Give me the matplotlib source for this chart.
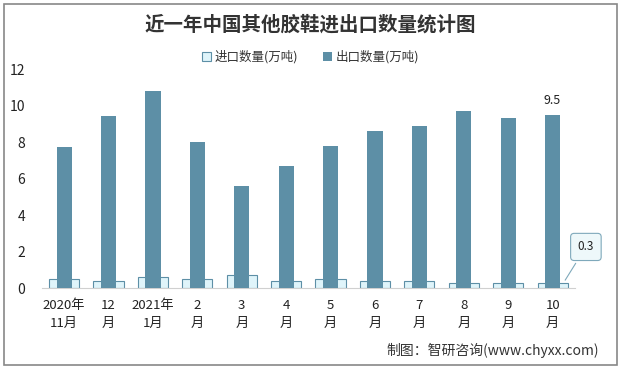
import matplotlib
matplotlib.use("Agg")
import matplotlib.pyplot as plt
from matplotlib.patches import Rectangle

plt.rcParams['font.family'] = ['Noto Sans CJK SC', 'DejaVu Sans']

categories = ["2020年\n11月", "12\n月", "2021年\n1月", "2\n月", "3\n月", "4\n月", "5\n月",
              "6\n月", "7\n月", "8\n月", "9\n月", "10\n月"]
imports = [0.5, 0.4, 0.6, 0.5, 0.7, 0.4, 0.5, 0.4, 0.4, 0.3, 0.3, 0.3]
exports = [7.7, 9.4, 10.8, 8.0, 5.6, 6.7, 7.8, 8.6, 8.9, 9.7, 9.3, 9.5]
yticks = [0, 2, 4, 6, 8, 10, 12]

exp_color = "#5D8FA6"
imp_fill = "#DFF4FA"
imp_edge = "#5D8FA6"

fig = plt.figure(figsize=(6.21, 3.69), dpi=100)
ax = fig.add_axes([0.0676, 0.2195, 0.858, 0.5935])

x = list(range(len(categories)))
ax.bar(x, imports, width=0.68, color=imp_fill, edgecolor=imp_edge, linewidth=0.8,
       label="进口数量(万吨)", zorder=2)
ax.bar(x, exports, width=0.34, color=exp_color, label="出口数量(万吨)", zorder=3)

ax.set_xlim(-0.5, len(categories) - 0.5)
ax.set_ylim(0, 12)
ax.set_yticks(yticks)
ax.set_yticklabels([str(v) for v in yticks], fontsize=10, color="#222222")
ax.set_xticks(x)
ax.set_xticklabels(categories, fontsize=9.5, color="#222222", linespacing=1.5)
ax.tick_params(axis='both', length=0, pad=8)
ax.tick_params(axis='y', pad=12)
for s in ["top", "right", "left"]:
    ax.spines[s].set_visible(False)
ax.spines["bottom"].set_color("#D0D0D0")

# labels on last bar
ax.text(x[-1], exports[-1] + 0.4, f"{exports[-1]}", ha="center", va="bottom", fontsize=9, color="#222222")
ax.annotate(f"{imports[-1]}", xy=(x[-1] + 0.25, imports[-1]), xytext=(x[-1] + 0.75, 2.25),
            ha="center", va="center", fontsize=8.5, color="#222222",
            bbox=dict(boxstyle="round,pad=0.6,rounding_size=0.3", fc="#EEF8FA", ec="#7FA9BB", lw=0.8),
            arrowprops=dict(arrowstyle="-", color="#7FA9BB", lw=0.8),
            annotation_clip=False)

fig.text(0.5, 0.932, "近一年中国其他胶鞋进出口数量统计图", ha="center", va="center",
         fontsize=14, fontweight="bold", color="#333333")

leg = fig.legend(loc="center", bbox_to_anchor=(0.5, 0.845), ncol=2, frameon=False,
                 fontsize=9, handlelength=0.7, handleheight=0.7, handletextpad=0.3,
                 columnspacing=2.0)
for t in leg.get_texts():
    t.set_color("#333333")

fig.text(0.965, 0.05, "制图：智研咨询(www.chyxx.com)", ha="right", va="center",
         fontsize=10, color="#333333")

fig.add_artist(Rectangle((0.006, 0.012), 0.988, 0.976, transform=fig.transFigure,
                         fill=False, ec="#888888", lw=1.2))

fig.savefig("out.png", dpi=100)
